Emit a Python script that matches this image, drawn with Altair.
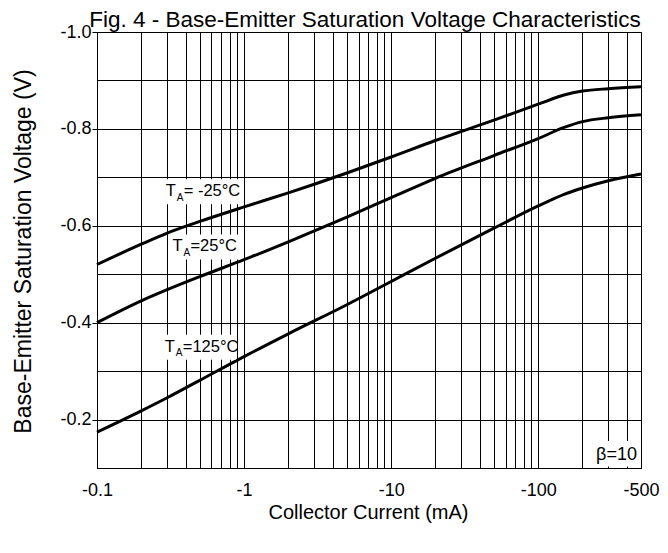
import altair as alt
import pandas as pd

FONT = "Liberation Sans"

# Collector current magnitude (mA), x axis shown as negative values
current_ma = [0.1, 0.2, 0.3, 0.5, 1, 2, 5, 10, 20, 50, 100, 150, 200, 300, 500]

# Base-emitter saturation voltage (V)
vbe_m25 = [-0.520, -0.562, -0.585, -0.609, -0.639, -0.668, -0.709, -0.742,
           -0.776, -0.818, -0.851, -0.870, -0.878, -0.883, -0.887]
vbe_25 = [-0.400, -0.445, -0.468, -0.495, -0.530, -0.567, -0.618, -0.658,
          -0.698, -0.745, -0.780, -0.803, -0.815, -0.823, -0.829]
vbe_125 = [-0.174, -0.218, -0.245, -0.281, -0.330, -0.377, -0.437, -0.485,
           -0.533, -0.595, -0.641, -0.665, -0.678, -0.693, -0.707]

series_names = ["-25", "25", "125"]

# axis tick / grid values
x_grid = [0.1, 0.2, 0.3, 0.4, 0.5, 0.6, 0.7, 0.8, 0.9,
          1, 2, 3, 4, 5, 6, 7, 8, 9,
          10, 20, 30, 40, 50, 60, 70, 80, 90,
          100, 200, 300, 400, 500]
x_labels = [0.1, 1, 10, 100, 500]
y_grid = [-1.0, -0.9, -0.8, -0.7, -0.6, -0.5, -0.4, -0.3, -0.2, -0.1]

# curve labels: text after the subscript, anchor current (mA), anchor voltage (V)
label_rest = ["= -25°C", "=25°C", "=125°C"]
label_current = [0.293, 0.326, 0.289]
label_vbe = [-0.661, -0.547, -0.340]

rows = []
for name, vals in zip(series_names, [vbe_m25, vbe_25, vbe_125]):
    for c, v in zip(current_ma, vals):
        rows.append({"current": c, "vbe": v, "series": name})
df = pd.DataFrame(rows)

x_label_list = ",".join(str(v) for v in x_labels)

x_scale = alt.Scale(type="log", domain=[0.1, 500], nice=False)
y_scale = alt.Scale(domain=[-1.0, -0.1], reverse=True, nice=False, zero=False)

x_axis = alt.Axis(
    values=x_grid,
    grid=True, gridColor="black", gridWidth=1, gridOpacity=1,
    ticks=False, tickSize=0, domain=False,
    labelExpr=f"indexof([{x_label_list}], datum.value) >= 0 ? '-' + format(datum.value, '~g') : ''",
    labelFont=FONT, labelFontSize=18, labelColor="black",
    labelBaseline="middle", labelPadding=22, labelFlush=False, labelOverlap=False,
    title="Collector Current (mA)", titleFont=FONT, titleFontSize=20,
    titleFontWeight="normal", titleColor="black",
    titleX=271, titleY=44, titleAlign="center", titleBaseline="middle",
)
y_axis = alt.Axis(
    values=y_grid,
    grid=True, gridColor="black", gridWidth=1, gridOpacity=1,
    ticks=True, tickSize=5, tickWidth=1,
    tickColor={"condition": {"test": "round(abs(datum.value)*10) % 2 == 0", "value": "black"},
               "value": "transparent"},
    domain=False,
    labelExpr="round(abs(datum.value)*10) % 2 == 0 ? '-' + format(abs(datum.value), '.1f') : ''",
    labelFont=FONT, labelFontSize=18, labelColor="black", labelPadding=1,
    labelOverlap=False, labelFlush=False,
    title="Base-Emitter Saturation Voltage (V)", titleFont=FONT, titleFontSize=23,
    titleFontWeight="normal", titleColor="black",
    titleX=-74, titleY=219, titleAlign="center", titleBaseline="middle", titleAngle=-90,
)

curves = alt.Chart(df).mark_line(color="black", strokeWidth=3, interpolate="monotone").encode(
    x=alt.X("current:Q", scale=x_scale, axis=x_axis),
    y=alt.Y("vbe:Q", scale=y_scale, axis=y_axis),
    detail="series:N",
)

box_layers = []
text_layers = []
box_widths = [77, 69, 74]
for rest, cx, vy, bw in zip(label_rest, label_current, label_vbe, box_widths):
    src = pd.DataFrame({"current": [cx], "vbe": [vy]})
    base = alt.Chart(src)
    box_layers.append(
        base.mark_rect(color="white", xOffset=-3, x2Offset=bw - 3, yOffset=-17, y2Offset=8).encode(
            x="current:Q", x2="current", y="vbe:Q", y2="vbe")
    )
    text_layers.append(
        base.mark_text(text="T", align="left", baseline="alphabetic", font=FONT,
                       fontSize=16.5, color="black").encode(x="current:Q", y="vbe:Q"))
    text_layers.append(
        base.mark_text(text="A", align="left", baseline="alphabetic", font=FONT,
                       fontSize=10, color="black", dx=11, dy=4.5).encode(x="current:Q", y="vbe:Q"))
    text_layers.append(
        base.mark_text(text=rest, align="left", baseline="alphabetic", font=FONT,
                       fontSize=16.5, color="black", dx=18).encode(x="current:Q", y="vbe:Q"))

beta_src = pd.DataFrame({"current": [500], "vbe": [-0.1]})
beta_base = alt.Chart(beta_src)
box_layers.append(
    beta_base.mark_rect(color="white", xOffset=-50, x2Offset=-1.5, yOffset=-27, y2Offset=-1.5).encode(
        x="current:Q", x2="current", y="vbe:Q", y2="vbe")
)
text_layers.append(
    beta_base.mark_text(text="β=10", align="right", baseline="alphabetic", font=FONT,
                        fontSize=18, color="black", dx=-4, dy=-8).encode(x="current:Q", y="vbe:Q")
)

chart = alt.layer(curves, *box_layers, *text_layers).properties(
    width=544,
    height=436,
    padding={"left": 89, "top": 24, "right": 19, "bottom": 70},
    autosize=alt.AutoSizeParams(type="none"),
    title=alt.TitleParams(
        text="Fig. 4 - Base-Emitter Saturation Voltage Characteristics",
        font=FONT, fontSize=22.5, fontWeight="normal", color="black",
        anchor="middle", frame="group", offset=0, dx=-4, dy=26, baseline="alphabetic",
    ),
).configure_view(stroke="black", strokeWidth=1)

chart.save("out.html", embed_options={"renderer": "svg", "actions": False})
